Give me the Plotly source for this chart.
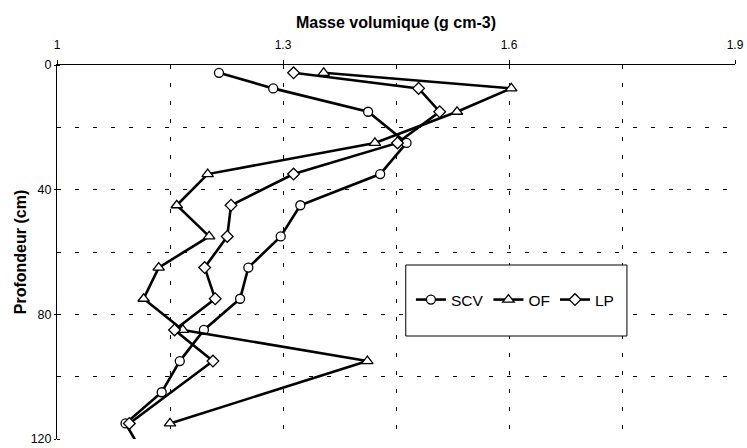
import plotly.graph_objects as go

# Bulk density (g cm-3) by depth (cm) for the three profiles
depth_scv = [2.5, 7.5, 15, 25, 35, 45, 55, 65, 75, 85, 95, 105, 115, 125]
scv = [1.215, 1.287, 1.413, 1.464, 1.429, 1.323, 1.297, 1.254, 1.243, 1.195, 1.163, 1.139, 1.091, 1.115]

depth_of = [2.5, 7.5, 15, 25, 35, 45, 55, 65, 75, 85, 95, 115]
of = [1.354, 1.603, 1.531, 1.422, 1.200, 1.159, 1.202, 1.135, 1.115, 1.167, 1.412, 1.150]

depth_lp = [2.5, 7.5, 15, 25, 35, 45, 55, 65, 75, 85, 95, 115]
lp = [1.314, 1.480, 1.508, 1.452, 1.314, 1.231, 1.226, 1.196, 1.210, 1.156, 1.207, 1.096]

x_ticks = [1, 1.3, 1.6, 1.9]
x_labels = ["1", "1.3", "1.6", "1.9"]
# vertical grid lines (none on the right-hand edge); the tiny offsets keep
# the lines at 1.3 and 1.6 from being merged with the labelled ticks
x_grid = [1.15, 1.3001, 1.45, 1.6001, 1.75]
y_ticks = [0, 40, 80, 120]

FONT = "Liberation Sans, Arial, sans-serif"

fig = go.Figure()

series = [
    ("SCV", scv, depth_scv, "circle", 9),
    ("OF", of, depth_of, "triangle-up", 10),
    ("LP", lp, depth_lp, "diamond", 9),
]
for name, xs, ys, sym, size in series:
    fig.add_trace(go.Scatter(
        x=xs, y=ys, name=name, mode="lines+markers",
        line=dict(color="black", width=2.6),
        marker=dict(symbol=sym, size=size, color="white",
                    line=dict(color="black", width=1.3)),
    ))

grid_dash = "4px,14px"

fig.update_xaxes(
    side="top", range=[1, 1.9], automargin=False,
    tickvals=x_ticks, ticktext=x_labels,
    ticks="outside", ticklen=4, tickcolor="black",
    ticklabelstandoff=6,
    showline=True, linecolor="black", linewidth=1,
    showgrid=False,
    minor=dict(tickmode="array", tickvals=x_grid, showgrid=True,
               gridcolor="black", gridwidth=1, griddash=grid_dash,
               ticks="inside", ticklen=3, tickcolor="black"),
    zeroline=False,
    tickfont=dict(family=FONT, size=12, color="black"),
    title=dict(text="<b>Masse volumique (g cm-3)</b>", standoff=5,
               font=dict(family=FONT, size=16, color="black")),
)

fig.update_yaxes(
    range=[120, 0], tickvals=y_ticks, automargin=False,
    ticks="outside", ticklen=2, tickcolor="black",
    showline=True, linecolor="black", linewidth=1,
    showgrid=True, gridcolor="black", gridwidth=1, griddash=grid_dash,
    minor=dict(dtick=20, tick0=0, showgrid=True, gridcolor="black",
               gridwidth=1, griddash=grid_dash, ticks="inside", ticklen=3,
               tickcolor="black"),
    zeroline=False,
    tickfont=dict(family=FONT, size=12.5, color="black"),
    title=dict(text="<b>Profondeur (cm)</b>", standoff=0,
               font=dict(family=FONT, size=16, color="black")),
)

# Framed legend box
fig.add_shape(type="rect", xref="paper", yref="paper",
              x0=0.5144, x1=0.8406, y0=0.2754, y1=0.4652,
              line=dict(color="black", width=1), fillcolor="white",
              layer="above")

fig.update_layout(
    width=747, height=448,
    margin=dict(l=57, r=12, t=65, b=9),
    paper_bgcolor="white", plot_bgcolor="white",
    font=dict(family=FONT, color="black"),
    showlegend=True,
    legend=dict(orientation="h", x=0.522, xanchor="left",
                y=0.3717, yanchor="middle",
                bgcolor="rgba(0,0,0,0)", borderwidth=0,
                font=dict(family=FONT, size=15.5, color="black")),
)

fig.write_html("out.html")
